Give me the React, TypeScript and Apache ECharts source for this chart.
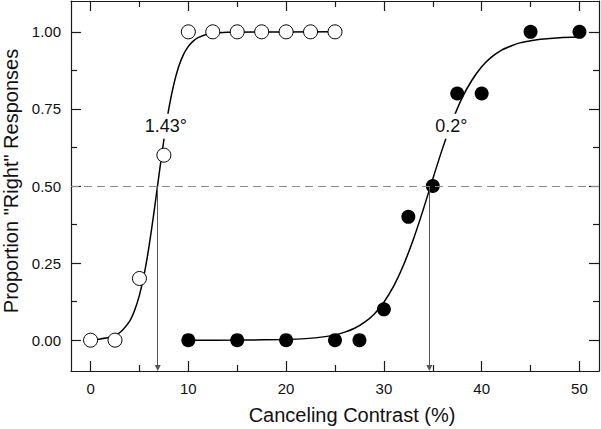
import React, { useEffect, useRef } from "react";
import * as echarts from "echarts";

const FONT = "'Liberation Sans', Arial, Helvetica, sans-serif";

// Observed data points
const openX = [0, 2.5, 5, 7.5, 10, 12.5, 15, 17.5, 20, 22.5, 25];
const openY = [0, 0, 0.2, 0.6, 1, 1, 1, 1, 1, 1, 1];
const filledX = [10, 15, 20, 25, 27.5, 30, 32.5, 35, 37.5, 40, 45, 50];
const filledY = [0, 0, 0, 0, 0, 0.1, 0.4, 0.5, 0.8, 0.8, 1, 1];

// Fitted curves
const openCurveX = [0, 1, 2, 3, 4, 4.5, 5, 5.5, 6, 6.5, 7, 7.5, 8, 8.5, 9, 9.5, 10, 10.5, 11, 12, 13, 14, 25];
const openCurveY = [0.0015, 0.004, 0.01, 0.025, 0.062, 0.096, 0.146, 0.216, 0.308, 0.418, 0.536, 0.65, 0.75, 0.828, 0.886, 0.926, 0.953, 0.97, 0.981, 0.993, 0.997, 0.999, 1.0];
const filledCurveX = [10, 15, 20, 22, 24, 25, 26, 27, 28, 29, 30, 31, 32, 33, 34, 35, 36, 37, 38, 39, 40, 41, 42, 43, 44, 45, 46, 48, 50];
const filledCurveY = [0, 0.0003, 0.0022, 0.005, 0.0115, 0.0172, 0.026, 0.0386, 0.0576, 0.0842, 0.123, 0.175, 0.243, 0.326, 0.421, 0.523, 0.622, 0.711, 0.786, 0.843, 0.887, 0.918, 0.94, 0.954, 0.965, 0.971, 0.976, 0.981, 0.983];

// Thresholds and annotations
const thresholds = [6.87, 34.65];
const annotText = ["1.43°", "0.2°"];
const annotX = [7.7, 36.9];
const annotY = [0.694, 0.694];

// Ticks
const xMajor = [0, 10, 20, 30, 40, 50];
const xMinor = [5, 15, 25, 35, 45];
const yMajor = [0, 0.25, 0.5, 0.75, 1];
const yTickLabels = ["0.00", "0.25", "0.50", "0.75", "1.00"];
const yMinor = [0.125, 0.375, 0.625, 0.875];

const X_MIN = -2;
const X_MAX = 52;
const Y_MIN = -0.1;
const Y_MAX = 1.1;

const AX = "#1a1a1a";

function xAx(position: "top" | "bottom", values: number[], len: number, showLine: boolean, labels: boolean, extra: any = {}) {
  return {
    type: "value",
    position,
    min: X_MIN,
    max: X_MAX,
    axisLine: { show: showLine, onZero: false, lineStyle: { color: AX, width: 1.2 } },
    axisTick: { show: true, inside: true, length: len, customValues: values, lineStyle: { color: AX, width: 1.2 } },
    axisLabel: labels
      ? { show: true, customValues: values, margin: 10, fontSize: 15, color: "#111", fontFamily: FONT }
      : { show: false },
    splitLine: { show: false },
    ...extra,
  };
}

function yAx(position: "left" | "right", values: number[], len: number, showLine: boolean, labels: boolean, extra: any = {}) {
  return {
    type: "value",
    position,
    min: Y_MIN,
    max: Y_MAX,
    axisLine: { show: showLine, onZero: false, lineStyle: { color: AX, width: 1.2 } },
    axisTick: { show: true, inside: true, length: len, customValues: values, lineStyle: { color: AX, width: 1.2 } },
    axisLabel: labels
      ? {
          show: true,
          customValues: values,
          margin: 10,
          fontSize: 15,
          color: "#111",
          fontFamily: FONT,
          formatter: (v: number) => {
            const i = yMajor.findIndex((m) => Math.abs(m - v) < 1e-9);
            return i >= 0 ? yTickLabels[i] : "";
          },
        }
      : { show: false },
    splitLine: { show: false },
    ...extra,
  };
}

export default function App() {
  const ref = useRef<HTMLDivElement>(null);
  useEffect(() => {
    document.body.style.margin = "0";
    const chart = echarts.init(ref.current!, null, { renderer: "svg" });
    const option: any = {
      animation: false,
      backgroundColor: "#fff",
      grid: { left: 71, right: 2, top: 1, bottom: 58, containLabel: false, outerBoundsMode: "none" },
      xAxis: [
        xAx("bottom", xMajor, 10, true, true, {
          name: "Canceling Contrast (%)",
          nameLocation: "middle",
          nameGap: 34,
          nameTextStyle: { fontSize: 20, color: "#111", fontFamily: FONT, padding: [0, 0, 0, 34] },
        }),
        xAx("bottom", xMinor, 6, false, false),
        xAx("top", xMajor, 10, true, false),
        xAx("top", xMinor, 6, false, false),
      ],
      yAxis: [
        yAx("left", yMajor, 10, true, true, {
          name: 'Proportion "Right" Responses',
          nameLocation: "middle",
          nameGap: 50,
          nameTextStyle: { fontSize: 20, color: "#111", fontFamily: FONT, padding: [0, 0, 0, 10] },
        }),
        yAx("left", yMinor, 6, false, false),
        yAx("right", yMajor, 10, true, false),
        yAx("right", yMinor, 6, false, false),
      ],
      series: [
        {
          type: "line",
          name: "open fit",
          data: openCurveX.map((x, i) => [x, openCurveY[i]]),
          showSymbol: false,
          smooth: 0.2,
          lineStyle: { color: "#000", width: 1.5 },
          z: 2,
          markLine: {
            silent: true,
            symbol: ["none", "triangle"],
            symbolSize: 6,
            label: { show: false },
            lineStyle: { color: "#555", width: 1, type: "solid" },
            data: thresholds.map((t) => [
              { coord: [t, 0.5] },
              { coord: [t, Y_MIN + 0.01] },
            ]),
          },
        },
        {
          type: "line",
          name: "filled fit",
          data: filledCurveX.map((x, i) => [x, filledCurveY[i]]),
          showSymbol: false,
          smooth: 0.2,
          lineStyle: { color: "#000", width: 1.5 },
          z: 2,
          markLine: {
            silent: true,
            symbol: "none",
            label: { show: false },
            lineStyle: { color: "#8a8a8a", width: 1, type: [8, 5] },
            data: [{ yAxis: 0.5 }],
          },
        },
        {
          type: "scatter",
          name: "annotations",
          data: annotX.map((x, i) => ({ value: [x, annotY[i]], name: annotText[i] })),
          symbolSize: 1,
          itemStyle: { color: "transparent", opacity: 1 },
          z: 3,
          label: {
            show: true,
            position: "inside",
            formatter: (p: any) => p.name,
            fontSize: 18,
            color: "#111",
            fontFamily: FONT,
            backgroundColor: "#fff",
            padding: [4, 2, 3, 2],
          },
        },
        {
          type: "scatter",
          name: "open",
          data: openX.map((x, i) => [x, openY[i]]),
          symbol: "circle",
          symbolSize: 14,
          itemStyle: { color: "#fff", borderColor: "#000", borderWidth: 1, opacity: 1 },
          z: 4,
        },
        {
          type: "scatter",
          name: "filled",
          data: filledX.map((x, i) => [x, filledY[i]]),
          symbol: "circle",
          symbolSize: 14,
          itemStyle: { color: "#000", opacity: 1 },
          z: 4,
        },
      ],
    };
    chart.setOption(option);
    return () => chart.dispose();
  }, []);
  return <div ref={ref} style={{ width: 601, height: 429 }} />;
}
